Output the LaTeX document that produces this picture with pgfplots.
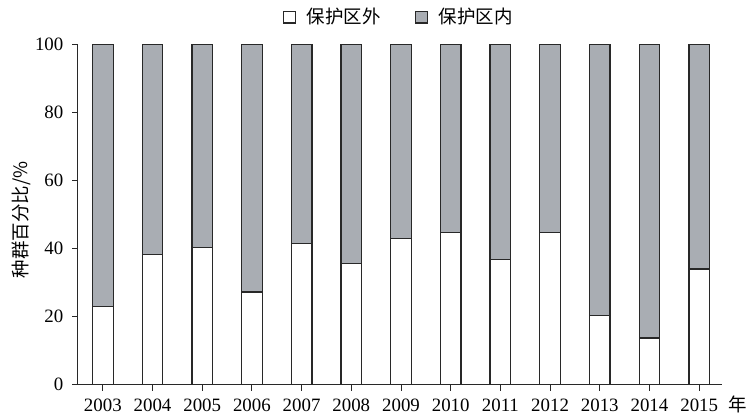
\documentclass[border=0pt]{standalone}
\usepackage{pgfplots}
\pgfplotsset{compat=1.18}
\usepackage{fontspec}
\setmainfont{Liberation Serif}
\newfontfamily\cjk{Noto Sans CJK SC}
\definecolor{bargray}{RGB}{169,173,179}
\definecolor{edge}{RGB}{40,40,40}
\begin{document}
\fontsize{9.5}{11}\selectfont
\begin{tikzpicture}
\begin{axis}[
  scale only axis,
  width=324pt, height=171.5pt,
  ybar stacked,
  bar width=10.4pt,
  bar shift=0pt,
  xmin=-0.5, xmax=12.45,
  ymin=0, ymax=100,
  xtick=data,
  xticklabels={2003,2004,2005,2006,2007,2008,2009,2010,2011,2012,2013,2014,2015},
  ytick={0,20,40,60,80,100},
  axis x line*=bottom, axis y line*=left,
  axis line style={edge, line width=0.5pt, -},
  tick style={edge, line width=0.5pt},
  tick align=outside,
  major tick length=3pt,
  /pgf/number format/assume math mode=true,
  ticklabel style={font=\fontsize{9.5}{11}\selectfont},
  xticklabel style={yshift=-1pt},
  yticklabel style={xshift=-1pt},
  ylabel={\cjk\fontsize{9.3}{11}\selectfont 种群百分比/\%},
  ylabel style={at={(axis description cs:-0.088,0.484)}, anchor=center, inner ysep=6pt},
  xlabel={\cjk\fontsize{9.3}{11}\selectfont 年},
  xlabel style={at={(rel axis cs:1,0)}, anchor=west, xshift=0pt, yshift=-10pt},
  legend columns=2,
  legend style={at={(axis description cs:0.5,1.079)}, anchor=center, draw=none,
    font=\cjk\fontsize{9.3}{11}\selectfont,
    /tikz/every odd column/.append style={column sep=3.5pt},
    /tikz/every even column/.append style={column sep=15pt}},
  legend image code/.code={\draw[#1, line width=0.6pt] (0pt,-3pt) rectangle (6pt,3pt);},
]
\addplot[fill=white, draw=edge, line width=0.65pt] coordinates {
(0,23.0) (1,38.2) (2,40.2) (3,27.2) (4,41.4) (5,35.6) (6,42.9) (7,44.6) (8,36.7) (9,44.6) (10,20.4) (11,13.7) (12,34.0)};
\addplot[fill=bargray, draw=edge, line width=0.65pt] coordinates {
(0,77.0) (1,61.8) (2,59.8) (3,72.8) (4,58.6) (5,64.4) (6,57.1) (7,55.4) (8,63.3) (9,55.4) (10,79.6) (11,86.3) (12,66.0)};
\legend{保护区外,保护区内}
\end{axis}
\end{tikzpicture}
\end{document}
